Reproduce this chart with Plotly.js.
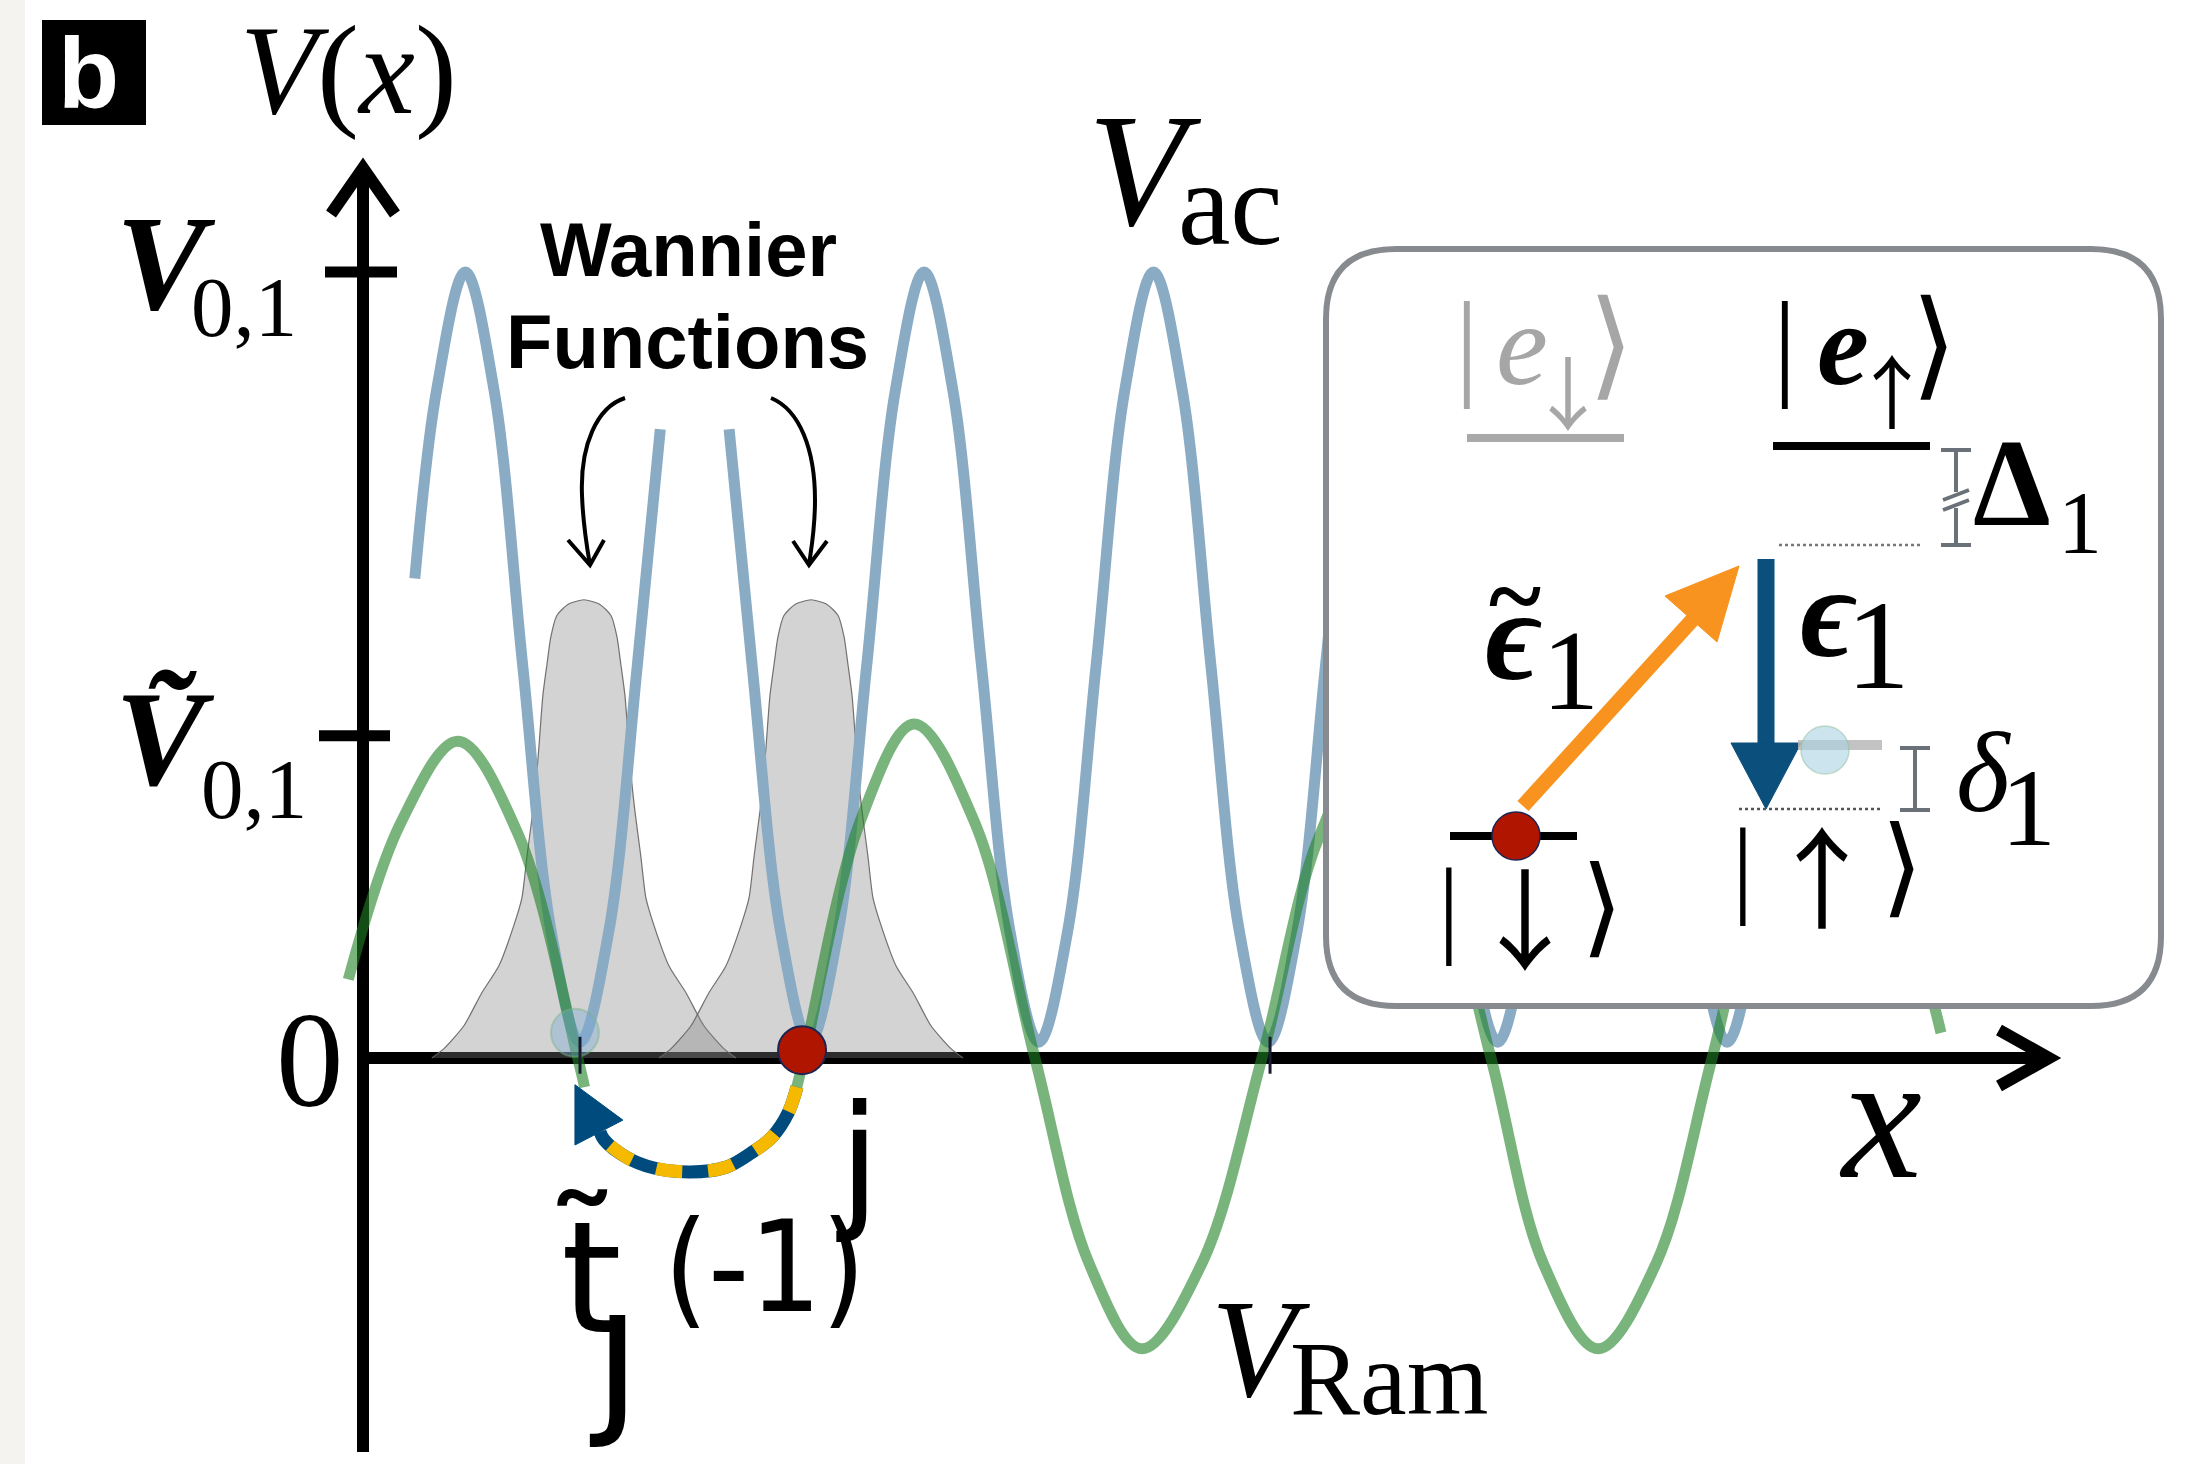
<!DOCTYPE html>
<html><head><meta charset="utf-8">
<script src="https://cdn.plot.ly/plotly-3.0.1.min.js"></script>
<style>html,body{margin:0;padding:0;background:#fff;overflow:hidden}#chart{width:2198px;height:1464px}</style>
</head><body><div id="chart"></div>
<script>
// ---------- data (x in lattice-site units, V in units of V_{0,1}) ----------
const blueX = [0.28,0.375,0.5,0.625,0.75,0.875,1.0,1.125,1.25,1.35,null,1.65,1.75,1.875,2.0,2.125,2.25,2.375,2.5,2.625,2.75,2.875,3.0,3.125,3.25,3.375,3.5,3.625,3.75,3.875,4.0,4.125,4.25,4.375,4.5,4.625,4.75,4.875,5.0,5.125,5.25,5.375,5.5,5.625,5.75,5.875,6.0,6.125,6.25,6.375];
const blueV = [0.61,0.85,1.0,0.85,0.5,0.16,0.02,0.16,0.5,0.8,null,0.8,0.5,0.16,0.02,0.16,0.5,0.85,1.0,0.85,0.5,0.16,0.02,0.16,0.5,0.85,1.0,0.85,0.5,0.16,0.02,0.16,0.5,0.85,1.0,0.85,0.5,0.16,0.02,0.16,0.5,0.85,1.0,0.85,0.5,0.16,0.02,0.16,0.5,0.85];

const greenX = [-0.01,0.22,0.468,0.73,0.99,1.02,null,1.945,1.976,2.22,2.456,2.72,2.983,3.22,3.449,3.71,3.973,4.22,4.46,4.71,4.971,5.2,5.438,5.69,5.935,6.18,6.43,6.68,6.933];
const greenV = [0.10,0.30,0.403,0.285,0.0,-0.037,null,-0.037,0.0,0.30,0.425,0.30,0.0,-0.262,-0.370,-0.262,0.0,0.28,0.40,0.28,0.0,-0.262,-0.370,-0.262,0.0,0.28,0.40,0.28,0.032];

const wannier1X = [0.354,0.407,0.494,0.572,0.646,0.712,0.747,0.769,0.795,0.808,0.821,0.838,0.856,0.873,0.899,0.947,1.017,1.087,1.135,1.161,1.178,1.196,1.213,1.226,1.239,1.265,1.287,1.322,1.388,1.462,1.540,1.627,1.680];
const wannier1V = [0,0.012,0.041,0.083,0.117,0.169,0.204,0.257,0.315,0.350,0.396,0.461,0.501,0.536,0.563,0.577,0.583,0.577,0.563,0.536,0.501,0.461,0.396,0.350,0.315,0.257,0.204,0.169,0.117,0.083,0.041,0.012,0];
const wannier2X = [1.344,1.397,1.484,1.562,1.636,1.702,1.737,1.759,1.785,1.798,1.811,1.828,1.846,1.863,1.889,1.937,2.007,2.077,2.125,2.151,2.168,2.186,2.203,2.216,2.229,2.255,2.277,2.312,2.378,2.452,2.530,2.617,2.670];
const wannier2V = [0,0.012,0.041,0.083,0.117,0.169,0.204,0.257,0.315,0.350,0.396,0.461,0.501,0.536,0.563,0.577,0.583,0.577,0.563,0.536,0.501,0.461,0.396,0.350,0.315,0.257,0.204,0.169,0.117,0.083,0.041,0.012,0];

const hopArcX = [1.946,1.907,1.837,1.745,1.636,1.480,1.323,1.201,1.105,1.087];
const hopArcV = [-0.037,-0.070,-0.1005,-0.121,-0.139,-0.145,-0.140,-0.126,-0.104,-0.094];
const hopHeadX = [0.978,0.978,1.187,0.978];
const hopHeadV = [-0.034,-0.1107,-0.079,-0.034];

const occupiedSiteX = [1.968], occupiedSiteV = [0.01];
const emptySiteX = [0.978], emptySiteV = [0.032];
const siteTickX = [1.0, 4.008];

const yTickValues = [1.0, 0.41, 0.0];
const yTickLabels = ['<b><i>V</i></b>', '<b><i>Ṽ</i></b>', '0'];
const yTickSubs = ['0,1', '0,1'];

// ---------- geometry helpers (pixel -> paper / data) ----------
const W = 2198, H = 1464;
const PX = X => X / W;
const PY = Y => 1 - Y / H;
const DX = X => 1 + (X - 580) / 229.4;
const DY = Y => (1058 - Y) / 786;
const YP = V => 1058 - 786 * V;

const SERIF = '"Liberation Serif", "DejaVu Serif", serif';
const SANS = '"Liberation Sans", Arial, sans-serif';
const HAND = '"DejaVu Sans", sans-serif';
const HANDC = '"DejaVu Sans Condensed", "DejaVu Sans", sans-serif';
const ARROWF = '"Noto Sans CJK JP", "DejaVu Sans", sans-serif';

function pathP(cmds) {
  return cmds.map(c => {
    const op = c[0]; const out = [op];
    for (let i = 1; i < c.length; i += 2) out.push(PX(c[i]).toFixed(6) + ',' + PY(c[i + 1]).toFixed(6));
    return out.join(' ');
  }).join(' ');
}
function lineP(X1, Y1, X2, Y2, color, width, dash, layer) {
  return {type: 'line', xref: 'paper', yref: 'paper', x0: PX(X1), y0: PY(Y1), x1: PX(X2), y1: PY(Y2),
    line: {color: color, width: width, dash: dash || 'solid'}, layer: layer || 'above'};
}
function shapeP(cmds, color, width, fill, layer) {
  return {type: 'path', xref: 'paper', yref: 'paper', path: pathP(cmds),
    line: {color: color, width: width}, fillcolor: fill || 'rgba(0,0,0,0)', layer: layer || 'above'};
}
function circleP(X, Y, r, fill, lc, lw) {
  return {type: 'circle', xref: 'paper', yref: 'paper', x0: PX(X - r), x1: PX(X + r), y0: PY(Y + r), y1: PY(Y - r),
    fillcolor: fill, line: {color: lc, width: lw}, layer: 'above'};
}
function A(text, X, Y, size, family, color) {
  return {xref: 'paper', yref: 'paper', x: PX(X), y: PY(Y), xanchor: 'center', yanchor: 'middle',
    showarrow: false, text: text, font: {family: family, size: size, color: color || '#000'}};
}

// ---------- traces ----------
const wannierStyle = {shape: 'spline', smoothing: 0.6, color: 'rgba(100,100,100,0.9)', width: 1.2};
const traces = [
  {x: wannier1X, y: wannier1V, mode: 'lines', line: wannierStyle, fill: 'tozeroy', fillcolor: 'rgba(128,128,128,0.35)', hoverinfo: 'skip'},
  {x: wannier2X, y: wannier2V, mode: 'lines', line: wannierStyle, fill: 'tozeroy', fillcolor: 'rgba(128,128,128,0.35)', hoverinfo: 'skip'},
  {x: blueX, y: blueV, mode: 'lines', connectgaps: false, line: {shape: 'spline', smoothing: 1, color: '#8aabc4', width: 11}},
  {x: greenX, y: greenV, mode: 'lines', connectgaps: false, line: {shape: 'spline', smoothing: 1, color: 'rgba(30,130,35,0.6)', width: 11}},
  {x: hopArcX, y: hopArcV, mode: 'lines', line: {shape: 'spline', color: '#004b7d', width: 13}},
  {x: hopArcX, y: hopArcV, mode: 'lines', line: {shape: 'spline', color: '#f5b900', width: 13, dash: '26px,26px'}},
  {x: hopHeadX, y: hopHeadV, mode: 'lines', fill: 'toself', fillcolor: '#004b7d', line: {color: '#004b7d', width: 1}},
  {x: emptySiteX, y: emptySiteV, mode: 'markers', marker: {size: 48, color: 'rgba(120,170,215,0.4)', line: {color: 'rgba(120,180,130,0.45)', width: 2}}},
  {x: occupiedSiteX, y: occupiedSiteV, mode: 'markers', marker: {size: 48, color: '#b01500', line: {color: '#1c2452', width: 2}}}
];

// ---------- shapes ----------
const shapes = [];
shapes.push({type: 'rect', xref: 'paper', yref: 'paper', x0: 0, x1: PX(25), y0: 0, y1: 1, fillcolor: '#f4f3f0', line: {width: 0}, layer: 'below'});
// axes (data coordinates)
shapes.push({type: 'line', xref: 'x', yref: 'y', x0: DX(357), x1: DX(2046), y0: 0, y1: 0, line: {color: '#000', width: 12}, layer: 'below'});
shapes.push({type: 'path', xref: 'x', yref: 'y', layer: 'below', line: {color: '#000', width: 12}, fillcolor: 'rgba(0,0,0,0)',
  path: `M ${DX(1999)},${DY(1030)} L ${DX(2049)},0 L ${DX(1999)},${DY(1086)}`});
shapes.push({type: 'line', xref: 'x', yref: 'y', x0: DX(363), x1: DX(363), y0: DY(1452), y1: DY(170), line: {color: '#000', width: 12}, layer: 'below'});
shapes.push({type: 'path', xref: 'x', yref: 'y', layer: 'below', line: {color: '#000', width: 12}, fillcolor: 'rgba(0,0,0,0)',
  path: `M ${DX(331)},${DY(214)} L ${DX(363)},${DY(168)} L ${DX(395)},${DY(214)}`});
shapes.push({type: 'line', xref: 'x', yref: 'y', x0: DX(325), x1: DX(397), y0: yTickValues[0], y1: yTickValues[0], line: {color: '#000', width: 11}, layer: 'below'});
shapes.push({type: 'line', xref: 'x', yref: 'y', x0: DX(319), x1: DX(390), y0: yTickValues[1], y1: yTickValues[1], line: {color: '#000', width: 11}, layer: 'below'});
siteTickX.forEach(sx => shapes.push({type: 'line', xref: 'x', yref: 'y', x0: sx, x1: sx, y0: 0.027, y1: -0.02, line: {color: '#1a1a30', width: 3}, layer: 'above'}));

// panel label box
shapes.push({type: 'rect', xref: 'paper', yref: 'paper', x0: PX(42), x1: PX(146), y0: PY(125), y1: PY(20), fillcolor: '#000', line: {width: 0}, layer: 'above'});

// Wannier pointer arrows
shapes.push(shapeP([['M', 625, 398], ['C', 597, 407, 580, 445, 582, 495], ['C', 583, 525, 587, 548, 590, 565]], '#000', 4));
shapes.push(shapeP([['M', 568, 540], ['L', 590, 565], ['L', 604, 540]], '#000', 4));
shapes.push(shapeP([['M', 771, 398], ['C', 800, 410, 815, 450, 815, 500], ['C', 815, 530, 811, 550, 809, 565]], '#000', 4));
shapes.push(shapeP([['M', 793, 541], ['L', 809, 565], ['L', 827, 541]], '#000', 4));

// inset box (rounded)
const bx1 = 1326, bx2 = 2161, by1 = 249, by2 = 1006, br = 70;
shapes.push(shapeP([['M', bx1 + br, by1], ['L', bx2 - br, by1], ['Q', bx2, by1, bx2, by1 + br], ['L', bx2, by2 - br], ['Q', bx2, by2, bx2 - br, by2],
  ['L', bx1 + br, by2], ['Q', bx1, by2, bx1, by2 - br], ['L', bx1, by1 + br], ['Q', bx1, by1, bx1 + br, by1], ['Z']], '#878b90', 6, '#ffffff'));
// levels
shapes.push(lineP(1467, 438, 1624, 438, '#a9a9a9', 8));
shapes.push(lineP(1773, 446, 1930, 446, '#000', 8));
shapes.push(lineP(1779, 545, 1922, 545, '#777', 2.5, 'dot'));
// Delta bracket
const gb = '#6b7179';
shapes.push(lineP(1941, 450, 1971, 450, gb, 4));
shapes.push(lineP(1956, 450, 1956, 492, gb, 4));
shapes.push(lineP(1943, 500, 1969, 490, gb, 4));
shapes.push(lineP(1943, 510, 1969, 500, gb, 4));
shapes.push(lineP(1956, 508, 1956, 545, gb, 4));
shapes.push(lineP(1941, 545, 1971, 545, gb, 4));
// orange arrow
shapes.push(lineP(1523, 806, 1695, 617, '#f7931e', 15));
shapes.push(shapeP([['M', 1739, 566], ['L', 1665, 596], ['L', 1717, 642], ['Z']], '#f7931e', 1, '#f7931e'));
// navy arrow
shapes.push(lineP(1766, 559, 1766, 748, '#0b4f7c', 17));
shapes.push(shapeP([['M', 1731, 743], ['L', 1801, 743], ['L', 1766, 809], ['Z']], '#0b4f7c', 1, '#0b4f7c'));
// virtual level + faint atom
shapes.push(lineP(1798, 745, 1882, 745, 'rgba(185,185,185,0.85)', 10));
shapes.push(circleP(1825, 750, 24, 'rgba(170,210,225,0.6)', 'rgba(150,190,160,0.5)', 1.5));
shapes.push(lineP(1739, 809, 1882, 809, '#555', 2.5, 'dot'));
// delta bracket
shapes.push(lineP(1900, 748, 1930, 748, gb, 4));
shapes.push(lineP(1915, 748, 1915, 810, gb, 4));
shapes.push(lineP(1900, 810, 1930, 810, gb, 4));
// ground level + atom
shapes.push(lineP(1450, 836, 1577, 836, '#000', 8));
shapes.push(circleP(1516, 836, 24, '#b01500', '#1c2452', 1.5));

// ---------- annotations ----------
const grayK = '#a6a6a6';
const ann = [
  A('<i>V</i>(<i>x</i>)', 348, 71, 126, SERIF),
  A(yTickLabels[0], 166, YP(yTickValues[0]) - 8, 135, SERIF),
  A(yTickSubs[0], 244, YP(yTickValues[0]) + 35, 85, SERIF),
  A(yTickLabels[1], 165, YP(yTickValues[1]) + 3, 135, SERIF),
  A(yTickSubs[1], 254, YP(yTickValues[1]) + 53, 85, SERIF),
  A(yTickLabels[2], 310, YP(yTickValues[2]) + 2, 135, SERIF),
  A('<i>V</i>', 1145, 171, 160, SERIF),
  A('ac', 1230, 205, 118, SERIF),
  A('<i>V</i>', 1260, 1348, 140, SERIF),
  A('Ram', 1389, 1378, 105, SERIF),
  A('<i>x</i>', 1880, 1116, 180, SERIF),
  A('<b>Wannier</b>', 688, 249, 76, SANS),
  A('<b>Functions</b>', 687, 341, 76, SANS),
  A('<b>b</b>', 88, 73, 100, SANS, '#ffffff'),
  // excited states
  A('|', 1467, 344, 118, SERIF, grayK),
  A('<i>e</i>', 1522, 344, 117, SERIF, grayK),
  A('↓', 1568, 389, 80, ARROWF, grayK),
  A('⟩', 1611, 344, 118, SERIF, grayK),
  A('|', 1785, 344, 118, SERIF),
  A('<b><i>e</i></b>', 1843, 344, 117, SERIF),
  A('↑', 1892, 387, 80, ARROWF),
  A('⟩', 1934, 344, 118, SERIF),
  A('<b>Δ</b>', 2012, 483, 124, SERIF),
  A('1', 2080, 523, 88, SERIF),
  A('<b>~</b>', 1515, 595, 100, SERIF),
  A('<b><i>ϵ</i></b>', 1513, 635, 130, SERIF),
  A('1', 1570, 671, 114, SERIF),
  A('<b><i>ϵ</i></b>', 1828, 612, 130, SERIF),
  A('1', 1878, 645, 128, SERIF),
  A('<i>δ</i>', 1983, 773, 115, SERIF),
  A('1', 2028, 808, 110, SERIF),
  // ground states
  A('|', 1449, 906, 108, SERIF),
  A('↓', 1525, 914, 110, ARROWF),
  A('⟩', 1602, 906, 108, SERIF),
  A('|', 1743, 866, 108, SERIF),
  A('↑', 1822, 872, 110, ARROWF),
  A('⟩', 1902, 866, 108, SERIF),
  // hopping label
  A('t̃', 589, 1278, 155, HAND),
  A('ȷ', 615, 1350, 175, HAND),
  A('(-1)', 765, 1267, 126, HANDC),
  A('j', 858, 1160, 148, HAND)
];

const layout = {
  width: W, height: H, autosize: false,
  margin: {l: 0, r: 0, t: 0, b: 0, pad: 0},
  paper_bgcolor: '#ffffff', plot_bgcolor: '#ffffff',
  showlegend: false,
  xaxis: {range: [DX(0), DX(W)], visible: false, fixedrange: true},
  yaxis: {range: [DY(H), DY(0)], visible: false, fixedrange: true},
  shapes: shapes,
  annotations: ann
};
Plotly.newPlot('chart', traces, layout, {displayModeBar: false, staticPlot: true});
</script></body></html>
